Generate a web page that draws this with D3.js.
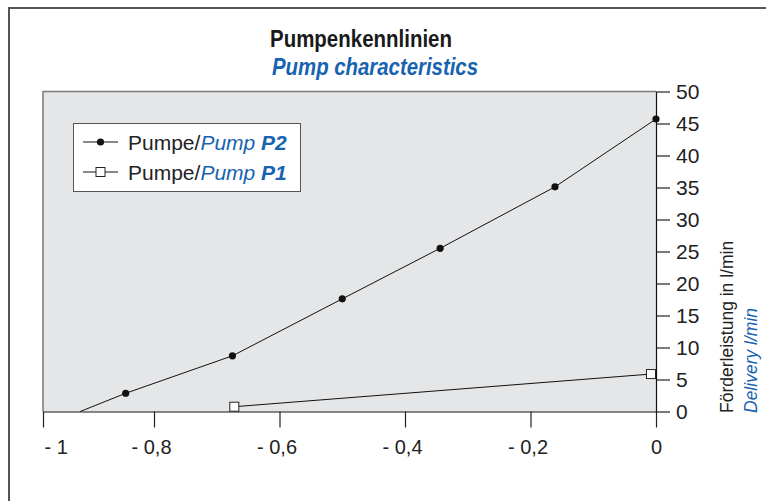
<!DOCTYPE html>
<html>
<head>
<meta charset="utf-8">
<script src="https://cdn.jsdelivr.net/npm/d3@7/dist/d3.min.js"></script>
<style>
  body { margin: 0; background: #fff; }
  svg { display: block; }
</style>
</head>
<body>
<svg id="chart" width="766" height="501"></svg>
<script>
// Axis ticks
const xTicks = [-1, -0.8, -0.6, -0.4, -0.2, 0];
const xTickLabels = ["- 1", "- 0,8", "- 0,6", "- 0,4", "- 0,2", "0"];
const yTicks = [0, 5, 10, 15, 20, 25, 30, 35, 40, 45, 50];

// Pump P2: x (pressure side), delivery in l/min; first point is the axis intercept (no marker)
const p2X = [-0.933, -0.851, -0.675, -0.5, -0.344, -0.161, 0];
const p2Y = [0, 2.85, 8.7, 17.6, 25.5, 35.1, 45.7];
const p2Marked = [false, true, true, true, true, true, true];

// Pump P1
const p1X = [-0.672, -0.008];
const p1Y = [0.75, 5.85];

const BLUE = "#1763b1";
const FONT = "'Liberation Sans', Arial, Helvetica, sans-serif";

const svg = d3.select("#chart");

const plot = { left: 43, right: 656, top: 91.5, bottom: 411.5 };

// The first division of the x axis is drawn shortened, the rest evenly spaced
const x = d3.scaleLinear()
  .domain([-1, -0.8, 0])
  .range([plot.left, 154, plot.right]);
const y = d3.scaleLinear()
  .domain([0, 50])
  .range([plot.bottom, plot.top]);

// Outer frame (top and left edges)
svg.append("path")
  .attr("d", "M9,505 V8 H770")
  .attr("fill", "none")
  .attr("stroke", "#555")
  .attr("stroke-width", 2);

// Titles, set in a condensed bold face
svg.append("text")
  .attr("x", 270).attr("y", 47)
  .attr("font-family", FONT)
  .attr("font-weight", "bold")
  .attr("font-size", 24)
  .attr("fill", "#1a1a1a")
  .attr("textLength", 182)
  .attr("lengthAdjust", "spacingAndGlyphs")
  .text("Pumpenkennlinien");
svg.append("text")
  .attr("x", 272).attr("y", 75)
  .attr("font-family", FONT)
  .attr("font-weight", "bold")
  .attr("font-style", "italic")
  .attr("font-size", 24)
  .attr("fill", BLUE)
  .attr("textLength", 206)
  .attr("lengthAdjust", "spacingAndGlyphs")
  .text("Pump characteristics");

// Plot background
svg.append("rect")
  .attr("x", plot.left).attr("y", plot.top)
  .attr("width", plot.right - plot.left)
  .attr("height", plot.bottom - plot.top)
  .attr("fill", "#e5e6e7");
svg.append("path")
  .attr("d", `M${plot.left},${plot.bottom} V${plot.top} H${plot.right}`)
  .attr("fill", "none")
  .attr("stroke", "#7a7a7a")
  .attr("stroke-width", 1.5);

// X axis
const xAxis = svg.append("g")
  .attr("transform", `translate(0,${plot.bottom})`)
  .call(d3.axisBottom(x)
    .tickValues(xTicks)
    .tickSize(16)
    .tickSizeOuter(0)
    .tickPadding(12)
    .tickFormat((d, i) => xTickLabels[i]));
xAxis.select(".domain").attr("stroke", "#111").attr("stroke-width", 1.2);
xAxis.selectAll(".tick line").attr("stroke", "#222").attr("stroke-width", 1.2);
xAxis.selectAll(".tick text")
  .attr("font-family", FONT)
  .attr("font-size", 20)
  .attr("fill", "#222")
  .attr("dx", d => d < 0 ? -3 : 0);
// leftmost label sits inside the axis start
xAxis.selectAll(".tick text").filter(d => d === xTicks[0])
  .attr("text-anchor", "start").attr("dx", 1);

// Y axis (right side)
const yAxis = svg.append("g")
  .attr("transform", `translate(${plot.right},0)`)
  .call(d3.axisRight(y)
    .tickValues(yTicks)
    .tickSize(14)
    .tickSizeOuter(0)
    .tickPadding(6));
yAxis.select(".domain").attr("stroke", "#111").attr("stroke-width", 1.2);
yAxis.selectAll(".tick line").attr("stroke", "#222").attr("stroke-width", 1.2);
yAxis.selectAll(".tick text")
  .attr("font-family", FONT)
  .attr("font-size", 21)
  .attr("fill", "#222");

// Y axis title (rotated)
svg.append("text")
  .attr("transform", "translate(733,413) rotate(-90)")
  .attr("font-family", FONT)
  .attr("font-size", 17.5)
  .attr("fill", "#222")
  .text("Förderleistung in l/min");
svg.append("text")
  .attr("transform", "translate(757,413) rotate(-90)")
  .attr("font-family", FONT)
  .attr("font-style", "italic")
  .attr("font-size", 17.5)
  .attr("fill", BLUE)
  .text("Delivery l/min");

// Series lines
const line = d3.line().x(d => x(d[0])).y(d => y(d[1]));
const p2 = p2X.map((v, i) => [v, p2Y[i]]);
const p1 = p1X.map((v, i) => [v, p1Y[i]]);

svg.append("path")
  .datum(p2)
  .attr("d", line)
  .attr("fill", "none")
  .attr("stroke", "#111")
  .attr("stroke-width", 1);
svg.append("path")
  .datum(p1)
  .attr("d", line)
  .attr("fill", "none")
  .attr("stroke", "#111")
  .attr("stroke-width", 1);

// Markers
svg.append("g").selectAll("circle")
  .data(p2.filter((d, i) => p2Marked[i]))
  .join("circle")
  .attr("cx", d => x(d[0]))
  .attr("cy", d => y(d[1]))
  .attr("r", 3.6)
  .attr("fill", "#111");
const sq = 9;
svg.append("g").selectAll("rect")
  .data(p1)
  .join("rect")
  .attr("x", d => x(d[0]) - sq / 2)
  .attr("y", d => y(d[1]) - sq / 2)
  .attr("width", sq)
  .attr("height", sq)
  .attr("fill", "#fff")
  .attr("stroke", "#222")
  .attr("stroke-width", 1);

// Legend
const legend = svg.append("g");
legend.append("rect")
  .attr("x", 73.5).attr("y", 123.5)
  .attr("width", 227).attr("height", 68)
  .attr("fill", "#fff")
  .attr("stroke", "#555")
  .attr("stroke-width", 1);

const legendItems = [
  { label: "P2", marker: "circle", y: 142 },
  { label: "P1", marker: "square", y: 172 }
];
legendItems.forEach(it => {
  legend.append("line")
    .attr("x1", 83).attr("x2", 118)
    .attr("y1", it.y).attr("y2", it.y)
    .attr("stroke", "#111").attr("stroke-width", 1);
  if (it.marker === "circle") {
    legend.append("circle")
      .attr("cx", 100.5).attr("cy", it.y).attr("r", 3.6).attr("fill", "#111");
  } else {
    legend.append("rect")
      .attr("x", 100.5 - sq / 2).attr("y", it.y - sq / 2)
      .attr("width", sq).attr("height", sq)
      .attr("fill", "#fff").attr("stroke", "#222");
  }
  const t = legend.append("text")
    .attr("x", 128).attr("y", it.y + 7.5)
    .attr("font-family", FONT)
    .attr("font-size", 21)
    .attr("fill", "#222");
  t.append("tspan").text("Pumpe/");
  t.append("tspan").attr("fill", BLUE).attr("font-style", "italic").text("Pump ");
  t.append("tspan").attr("fill", BLUE).attr("font-style", "italic").attr("font-weight", "bold").text(it.label);
});
</script>
</body>
</html>
